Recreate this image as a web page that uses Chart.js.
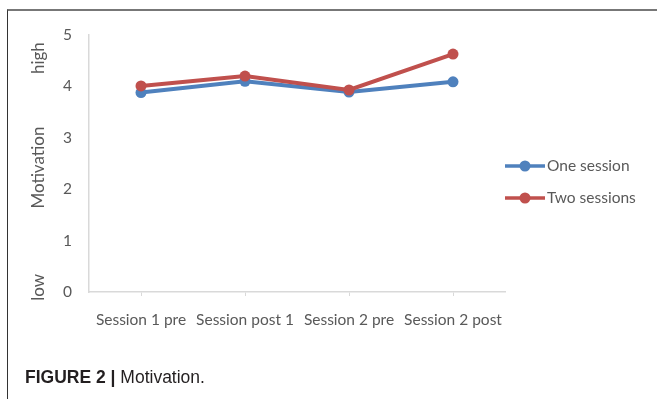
<!DOCTYPE html>
<html>
<head>
<meta charset="utf-8">
<script src="https://cdn.jsdelivr.net/npm/chart.js@4"></script>
<style>
  html, body { margin: 0; padding: 0; background: #fff; }
  body { width: 657px; height: 399px; position: relative; overflow: hidden; }
  #frame {
    position: absolute; left: 7px; top: 9px; width: 700px; height: 420px;
    border-top: 2px solid #777; border-left: 1px solid #333;
  }
  #wrap { position: absolute; left: 0; top: 0; width: 657px; height: 399px; }
  #caption {
    position: absolute; left: 25px; top: 367px;
    font-family: "Liberation Sans", Arial, sans-serif; font-size: 17.5px;
    color: #231f20; white-space: nowrap;
  }
  #caption b { font-weight: bold; }
</style>
</head>
<body>
<div id="frame"></div>
<div id="wrap"><canvas id="c" width="657" height="399"></canvas></div>
<div id="caption"><b>FIGURE 2 |</b> Motivation.</div>
<script>
// Measurement points and mean motivation scores (0 = low, 5 = high)
const sessions = ["Session 1 pre", "Session post 1", "Session 2 pre", "Session 2 post"];
const oneSession = [3.88, 4.10, 3.89, 4.09];
const twoSessions = [4.01, 4.20, 3.93, 4.63];
const yTicks = [0, 1, 2, 3, 4, 5];
const seriesNames = ["One session", "Two sessions"];

const BLUE = "#4f81bd";
const RED = "#c0504d";
const TEXT = "#595959";
const AXIS = "#d9d9d9";
const FONT = "Lato, 'Open Sans', sans-serif";

// Axis title split into "low", "Motivation", "high" along the value axis
const axisTitlePlugin = {
  id: "axisTitle",
  afterDraw(chart) {
    const ctx = chart.ctx;
    const y = chart.scales.y;
    const parts = [["low", 0.09], ["Motivation", 2.42], ["high", 4.55]];
    ctx.save();
    ctx.fillStyle = TEXT;
    ctx.font = "17px " + FONT;
    ctx.textAlign = "center";
    ctx.textBaseline = "middle";
    parts.forEach(([txt, v]) => {
      ctx.save();
      ctx.translate(39, y.getPixelForValue(v));
      ctx.rotate(-Math.PI / 2);
      ctx.fillText(txt, 0, 0);
      ctx.restore();
    });
    ctx.restore();
  }
};

// Legend with line-and-marker swatches to the right of the plot
const sideLegendPlugin = {
  id: "sideLegend",
  afterDraw(chart) {
    const ctx = chart.ctx;
    const x0 = chart.chartArea.right;
    const rows = [166, 198];
    ctx.save();
    chart.data.datasets.forEach((ds, i) => {
      const yy = rows[i];
      ctx.strokeStyle = ds.borderColor;
      ctx.lineWidth = 3.5;
      ctx.beginPath();
      ctx.moveTo(x0, yy);
      ctx.lineTo(x0 + 40, yy);
      ctx.stroke();
      ctx.fillStyle = ds.borderColor;
      ctx.beginPath();
      ctx.arc(x0 + 20, yy, 5.5, 0, Math.PI * 2);
      ctx.fill();
      ctx.fillStyle = TEXT;
      ctx.font = "15.5px " + FONT;
      ctx.textAlign = "left";
      ctx.textBaseline = "middle";
      ctx.fillText(ds.label, x0 + 42, yy);
    });
    ctx.restore();
  }
};

new Chart(document.getElementById("c"), {
  type: "line",
  data: {
    labels: sessions,
    datasets: [
      {
        label: seriesNames[0], data: oneSession, order: 1,
        borderColor: BLUE, backgroundColor: BLUE,
        borderWidth: 4, pointRadius: 5.5, pointBorderWidth: 0,
        pointBackgroundColor: BLUE, tension: 0
      },
      {
        label: seriesNames[1], data: twoSessions, order: 0,
        borderColor: RED, backgroundColor: RED,
        borderWidth: 4, pointRadius: 5.5, pointBorderWidth: 0,
        pointBackgroundColor: RED, tension: 0
      }
    ]
  },
  options: {
    responsive: false,
    animation: false,
    devicePixelRatio: 1,
    layout: { padding: { left: 0, top: 35, right: 152, bottom: 0 } },
    plugins: {
      legend: { display: false },
      tooltip: { enabled: false },
      title: { display: false }
    },
    scales: {
      x: {
        type: "category",
        offset: true,
        afterFit(scale) { scale.height = 399 - 292; },
        grid: {
          offset: false, drawOnChartArea: false, drawTicks: true,
          tickLength: 4, color: AXIS, lineWidth: 1
        },
        border: { display: true, color: AXIS, width: 1.5 },
        ticks: {
          color: TEXT, font: { family: FONT, size: 15.5 },
          padding: 15, maxRotation: 0, autoSkip: false
        }
      },
      y: {
        min: 0, max: 5,
        afterFit(scale) { scale.width = 89; },
        afterBuildTicks(scale) { scale.ticks = yTicks.map(v => ({ value: v })); },
        grid: { drawOnChartArea: false, drawTicks: false },
        border: { display: true, color: AXIS, width: 1.5 },
        ticks: {
          color: TEXT, font: { family: FONT, size: 15.5 },
          padding: 17
        }
      }
    }
  },
  plugins: [axisTitlePlugin, sideLegendPlugin]
});
</script>
</body>
</html>
